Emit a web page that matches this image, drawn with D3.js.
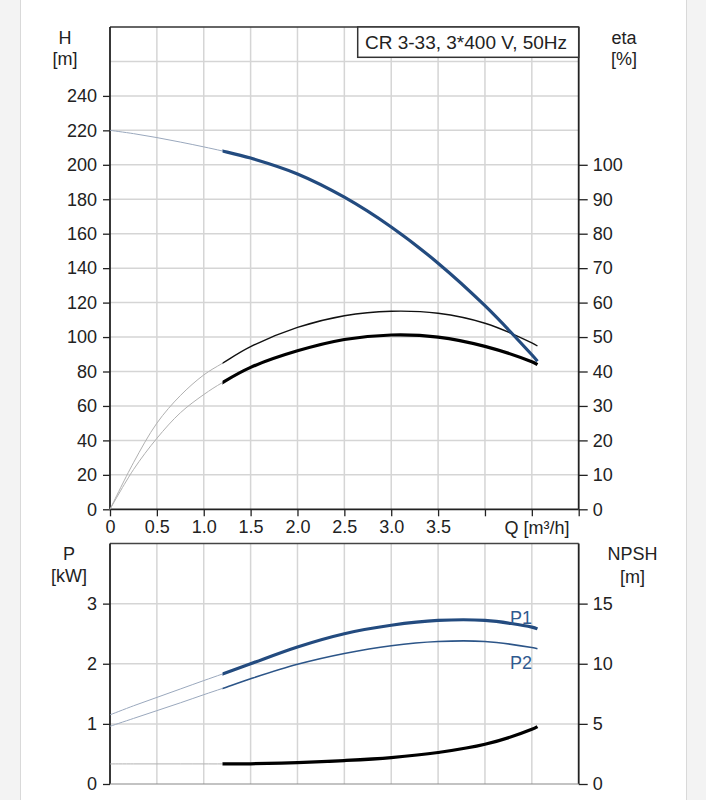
<!DOCTYPE html>
<html>
<head>
<meta charset="utf-8">
<script src="https://cdn.jsdelivr.net/npm/d3@7"></script>
<style>
  html, body { margin: 0; padding: 0; background: #f3f3f3; }
  svg { display: block; }
  text { font-family: "Liberation Sans", Arial, sans-serif; fill: #222; }
</style>
</head>
<body>
<svg id="chart" width="706" height="800"></svg>
<script>
// ---------- data ----------
const flowQ    = [0, 0.25, 0.5, 0.75, 1.0, 1.2, 1.5, 2.0, 2.5, 3.0, 3.5, 4.0, 4.5, 4.56];
const headH    = [220, 218.1, 215.8, 213.2, 210.4, 208, 203.9, 194.7, 181.2, 163.9, 142.9, 118.2, 89.7, 86];
const etaPump  = [0, 13.5, 25, 33, 39, 42.4, 47.2, 52.8, 56.2, 57.5, 56.9, 54, 48.3, 47.4];
const etaTotal = [0, 11.5, 20.6, 28, 33.3, 36.8, 41.2, 46, 49.3, 50.6, 50, 47.3, 42.8, 42];
const powerP1  = [1.15, 1.3, 1.44, 1.58, 1.72, 1.83, 2.0, 2.28, 2.5, 2.64, 2.72, 2.72, 2.61, 2.58];
const powerP2  = [0.96, 1.09, 1.22, 1.35, 1.485, 1.59, 1.75, 1.99, 2.17, 2.3, 2.37, 2.37, 2.27, 2.25];
const npshR    = [1.67, 1.67, 1.67, 1.67, 1.67, 1.67, 1.68, 1.78, 1.95, 2.2, 2.62, 3.3, 4.55, 4.78];
const qStart   = 1.2;   // start of the operating range (thick curves)

const qTicks    = [0, 0.5, 1.0, 1.5, 2.0, 2.5, 3.0, 3.5, 4.0, 4.5, 5.0];
const qLabels   = ["0", "0.5", "1.0", "1.5", "2.0", "2.5", "3.0", "3.5", "", "", ""];
const hTicks    = [0, 20, 40, 60, 80, 100, 120, 140, 160, 180, 200, 220, 240];
const hGrid     = [20, 40, 60, 80, 100, 120, 140, 160, 180, 200, 220, 240, 260];
const etaTicks  = [0, 10, 20, 30, 40, 50, 60, 70, 80, 90, 100];
const pTicks    = [0, 1, 2, 3];
const pGrid     = [1, 2, 3];
const npshTicks = [0, 5, 10, 15];
const titleText = "CR 3-33, 3*400 V, 50Hz";

// ---------- layout ----------
const svg = d3.select("#chart");
const L = 110, R = 578.7;
const top1 = 27, bot1 = 509.3;
const top2 = 543.5, bot2 = 784;

svg.append("rect").attr("x", 20.5).attr("y", -1).attr("width", 666).attr("height", 802)
  .attr("fill", "#fff").attr("stroke", "#d9d9d9");

const x   = d3.scaleLinear().domain([0, 5]).range([L, R]);
const yH  = d3.scaleLinear().domain([0, 280]).range([bot1, top1]);
const yE  = d3.scaleLinear().domain([0, 140]).range([bot1, top1]);
const yP  = d3.scaleLinear().domain([0, 4]).range([bot2, top2]);
const yN  = d3.scaleLinear().domain([0, 20]).range([bot2, top2]);

const defs = svg.append("defs");
defs.append("clipPath").attr("id", "clipExt").append("rect")
  .attr("x", 0).attr("y", 0).attr("width", x(qStart)).attr("height", 800);
defs.append("clipPath").attr("id", "clipOp").append("rect")
  .attr("x", x(qStart)).attr("y", 0).attr("width", 706 - x(qStart)).attr("height", 800);

const gridColor = "#d5d5d5";
function grid(yScale, vals, y0, y1) {
  const g = svg.append("g");
  g.selectAll("line.h").data(vals).join("line")
    .attr("x1", L).attr("x2", R).attr("y1", d => yScale(d)).attr("y2", d => yScale(d))
    .attr("stroke", gridColor).attr("stroke-width", 1.5);
  g.selectAll("line.v").data(qTicks.filter(d => d > 0 && d < 5)).join("line")
    .attr("x1", d => x(d)).attr("x2", d => x(d)).attr("y1", y0).attr("y2", y1)
    .attr("stroke", gridColor).attr("stroke-width", 1.5);
}
grid(yH, hGrid, top1, bot1);
grid(yP, pGrid, top2, bot2);

// ---------- axes ----------
const FS = 18;
function styleAxis(g) {
  g.select(".domain").remove();
  g.selectAll(".tick line").attr("stroke", "#222").attr("stroke-width", 1.3);
  g.selectAll(".tick text").attr("font-size", FS).attr("fill", "#222")
    .attr("font-family", '"Liberation Sans", Arial, sans-serif');
}
svg.append("g").attr("transform", `translate(${L},0)`)
  .call(d3.axisLeft(yH).tickValues(hTicks).tickSize(7).tickPadding(6).tickFormat(d3.format("d")))
  .call(styleAxis);
svg.append("g").attr("transform", `translate(${R},0)`)
  .call(d3.axisRight(yE).tickValues(etaTicks).tickSize(9).tickPadding(5).tickFormat(d3.format("d")))
  .call(styleAxis);
svg.append("g").attr("transform", `translate(0,${bot1})`)
  .call(d3.axisBottom(x).tickValues(qTicks).tickSize(7).tickPadding(4).tickFormat((d, i) => qLabels[i]))
  .call(styleAxis);
svg.append("g").attr("transform", `translate(${L},0)`)
  .call(d3.axisLeft(yP).tickValues(pTicks).tickSize(7).tickPadding(6).tickFormat(d3.format("d")))
  .call(styleAxis);
svg.append("g").attr("transform", `translate(${R},0)`)
  .call(d3.axisRight(yN).tickValues(npshTicks).tickSize(9).tickPadding(5).tickFormat(d3.format("d")))
  .call(styleAxis);

// frames
const frame = svg.append("g").attr("fill", "none");
function fl(x1, y1, x2, y2, c, w) {
  frame.append("line").attr("x1", x1).attr("x2", x2).attr("y1", y1).attr("y2", y2)
    .attr("stroke", c).attr("stroke-width", w);
}
fl(L, top1, R, top1, "#333", 1.5);
fl(L, top1, L, bot1, "#222", 1.8);
fl(R, top1, R, bot1, "#222", 1.8);
fl(L, bot1, R, bot1, "#222", 1.8);
fl(L, top2, R, top2, "#444", 1.5);
fl(L, top2, L, bot2, "#222", 1.8);
fl(R, top2, R, bot2, "#222", 1.8);
fl(L, bot2, R, bot2, "#888", 1.2);

// title box
svg.append("rect").attr("x", 357.7).attr("y", top1).attr("width", R - 357.7).attr("height", 30.3)
  .attr("fill", "#fff").attr("stroke", "#333").attr("stroke-width", 1.5);
svg.append("text").attr("x", 365).attr("y", 48.5).attr("font-size", 19).text(titleText);

// axis titles
function label(xc, yb, txt) {
  svg.append("text").attr("x", xc).attr("y", yb).attr("font-size", FS)
    .attr("text-anchor", "middle").text(txt);
}
label(65, 43.5, "H"); label(65, 64.5, "[m]");
label(624, 43.5, "eta"); label(624, 64.5, "[%]");
label(69, 559.5, "P"); label(69, 582, "[kW]");
label(632.5, 560, "NPSH"); label(632.5, 582.5, "[m]");
label(537, 533.5, "Q [m³/h]");

// ---------- curves ----------
const pts = vals => flowQ.map((q, i) => [q, vals[i]]);
function curve(vals, yScale, color, width, part) {
  const line = d3.line().x(d => x(d[0])).y(d => yScale(d[1])).curve(d3.curveCatmullRom.alpha(0.5));
  svg.append("path").datum(pts(vals)).attr("d", line)
    .attr("clip-path", part === "ext" ? "url(#clipExt)" : "url(#clipOp)")
    .attr("fill", "none").attr("stroke", color).attr("stroke-width", width)
    .attr("stroke-linejoin", "round");
}
const blue = "#234b7f", blueThin = "#2c5588", extBlue = "#9aa8bd", extGray = "#b0b0b0";

// top chart
curve(etaPump, yE, extGray, 1, "ext");
curve(etaTotal, yE, extGray, 1, "ext");
curve(headH, yH, extBlue, 1, "ext");
curve(etaPump, yE, "#111", 1.4, "op");
curve(etaTotal, yE, "#000", 3.2, "op");
curve(headH, yH, blue, 3.2, "op");

// bottom chart
curve(npshR, yN, extGray, 1, "ext");
curve(powerP1, yP, extBlue, 1, "ext");
curve(powerP2, yP, extBlue, 1, "ext");
curve(npshR, yN, "#000", 3.2, "op");
curve(powerP1, yP, blue, 3.2, "op");
curve(powerP2, yP, blueThin, 1.6, "op");

svg.append("text").attr("x", 510).attr("y", 624).attr("font-size", FS).style("fill", "#2f5a8f").text("P1");
svg.append("text").attr("x", 510).attr("y", 668.5).attr("font-size", FS).style("fill", "#2f5a8f").text("P2");
</script>
</body>
</html>
